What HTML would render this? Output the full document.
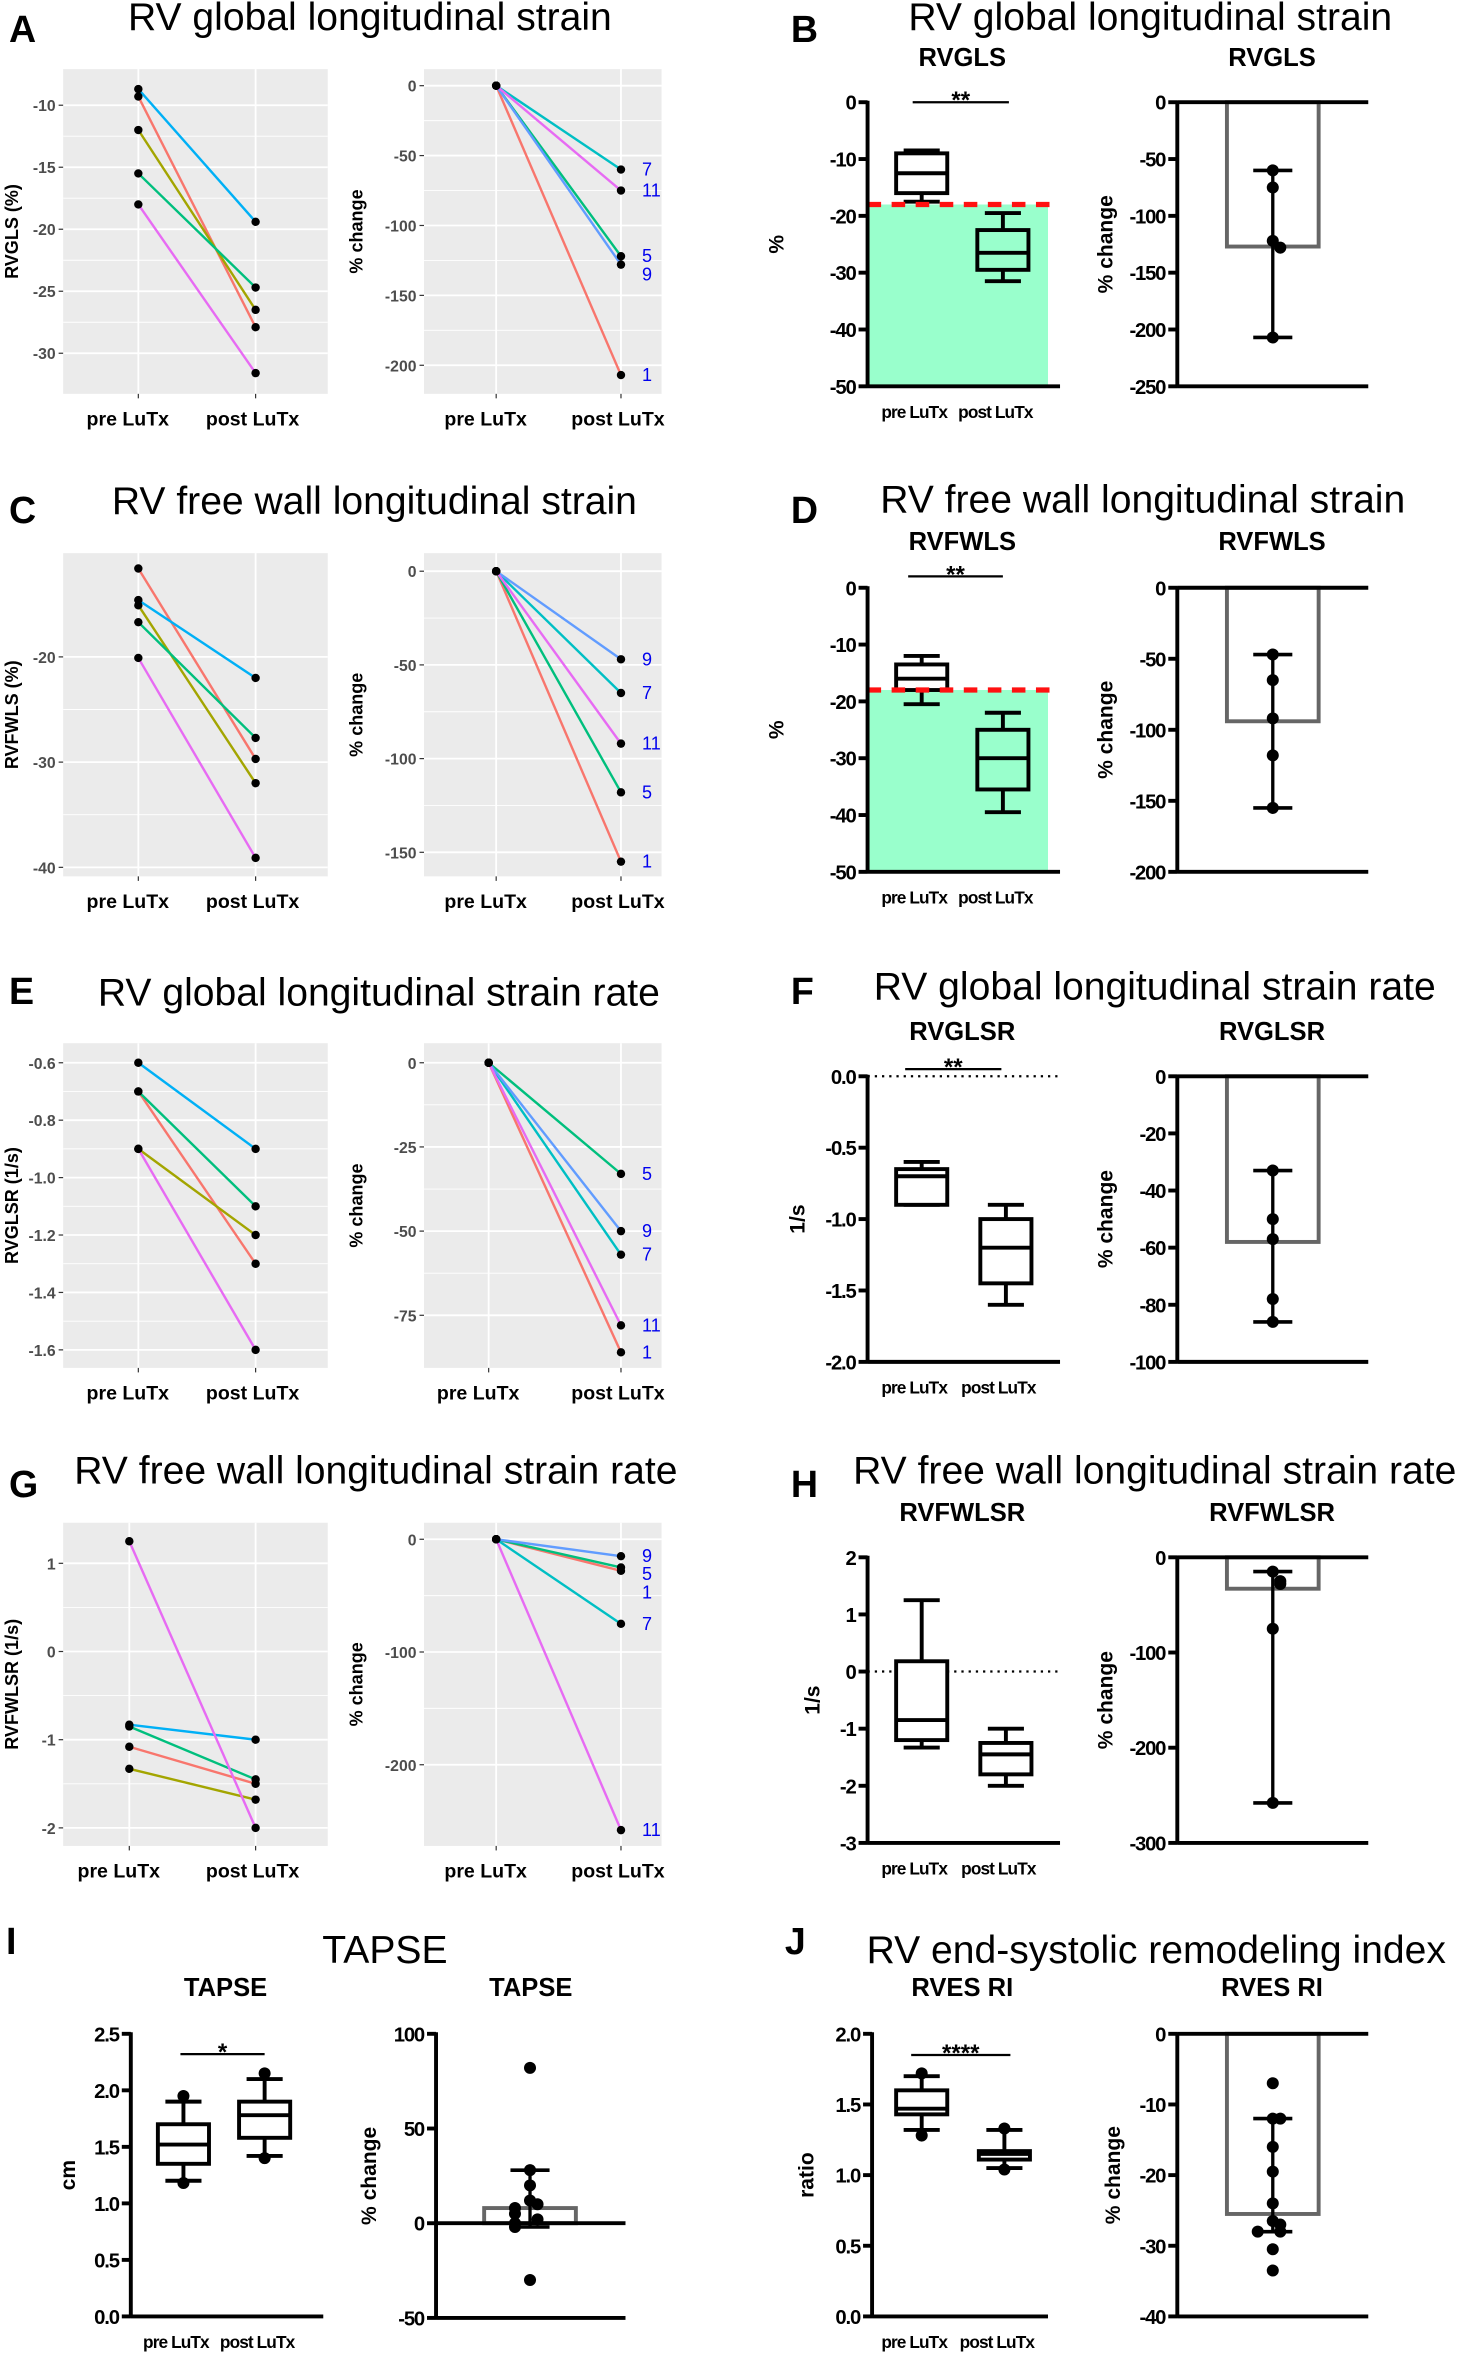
<!DOCTYPE html>
<html><head><meta charset="utf-8">
<style>
html,body{margin:0;padding:0;background:#fff;}
svg{display:block;}
text{font-family:"Liberation Sans",sans-serif;}
</style></head>
<body>
<svg id="fig" xmlns="http://www.w3.org/2000/svg" width="1469" height="2357" viewBox="0 0 977 1568" preserveAspectRatio="none"></svg>
<script>
// ---------- DATA ----------
const colRed="#F8766D",colOli="#A3A500",colGrn="#00BF7D",colCya="#00B0F6",colBlu="#619CFF",colMag="#E76BF3";
const gxLabels=["pre LuTx","post LuTx"];
// A
const aPre=[-9.3,-12,-15.5,-8.7,-18], aPost=[-27.9,-26.5,-24.7,-19.4,-31.6];
const aCols=[colRed,colOli,colGrn,colCya,colMag];
const aTicks=[-10,-15,-20,-25,-30];
const aPct=[-207,-122,-60,-128,-75], aIds=["1","5","7","9","11"];
const aPctCols=[colRed,colGrn,"#00BFC4",colBlu,colMag];
const aPctTicks=[0,-50,-100,-150,-200];
// C
const cPre=[-11.6,-15.1,-16.7,-14.6,-20.1], cPost=[-29.7,-32,-27.7,-22,-39.1];
const cTicks=[-20,-30,-40];
const cPct=[-155,-118,-65,-47,-92];
const cPctTicks=[0,-50,-100,-150];
// E
const ePre=[-0.7,-0.9,-0.7,-0.6,-0.9], ePost=[-1.3,-1.2,-1.1,-0.9,-1.6];
const eTicks=[-0.6,-0.8,-1.0,-1.2,-1.4,-1.6];
const ePct=[-86,-33,-57,-50,-78];
const ePctTicks=[0,-25,-50,-75];
// G
const gPre=[-1.08,-1.33,-0.85,-0.83,1.25], gPost=[-1.5,-1.68,-1.45,-1.0,-2.0];
const gTicks=[1,0,-1,-2];
const gPct=[-28,-25,-75,-15,-258];
const gPctTicks=[0,-100,-200];
// Box data [min,q1,median,q3,max]
const bPreBox=[-17.5,-16,-12.5,-9,-8.5], bPostBox=[-31.5,-29.5,-26.5,-22.5,-19.5];
const bTicks=[0,-10,-20,-30,-40,-50];
const bBar=-127, bPts=[-60,-75,-122,-128,-207], bErr=[-207,-60];
const bBarTicks=[0,-50,-100,-150,-200,-250];
const dPreBox=[-20.5,-18,-16,-13.5,-12], dPostBox=[-39.5,-35.5,-30,-25,-22];
const dTicks=[0,-10,-20,-30,-40,-50];
const dBar=-94, dPts=[-47,-65,-92,-118,-155], dErr=[-155,-47];
const dBarTicks=[0,-50,-100,-150,-200];
const fPreBox=[-0.9,-0.9,-0.7,-0.65,-0.6], fPostBox=[-1.6,-1.45,-1.2,-1.0,-0.9];
const fTicks=[0,-0.5,-1,-1.5,-2];
const fTickLbl=["0.0","-0.5","-1.0","-1.5","-2.0"];
const fBar=-58, fPts=[-33,-50,-57,-78,-86], fErr=[-86,-33];
const fBarTicks=[0,-20,-40,-60,-80,-100];
const hPreBox=[-1.33,-1.2,-0.85,0.18,1.25], hPostBox=[-2.0,-1.8,-1.45,-1.25,-1.0];
const hTicks=[2,1,0,-1,-2,-3];
const hBar=-33, hPts=[-15,-25,-28,-75,-258], hErr=[-258,-15];
const hBarTicks=[0,-100,-200,-300];
const iPreBox=[1.2,1.35,1.52,1.7,1.9], iPostBox=[1.42,1.58,1.78,1.9,2.1];
const iPreOut=[1.18,1.95], iPostOut=[1.4,2.15];
const iTicks=[0,0.5,1,1.5,2,2.5], iTickLbl=["0.0","0.5","1.0","1.5","2.0","2.5"];
const iBar=8, iPts=[82,28,20,12,10,8,5,2,0,-2,-30], iErr=[-2,28];
const iBarTicks=[100,50,0,-50];
const jPreBox=[1.32,1.43,1.47,1.6,1.7], jPostBox=[1.05,1.11,1.15,1.17,1.32];
const jPreOut=[1.28,1.72], jPostOut=[1.04,1.33];
const jTicks=[0,0.5,1,1.5,2], jTickLbl=["0.0","0.5","1.0","1.5","2.0"];
const jBar=-25.5, jPts=[-7,-12,-12,-16,-19.5,-24,-26.5,-27,-28,-28,-30.5,-33.5], jErr=[-28,-12];
const jBarTicks=[0,-10,-20,-30,-40];

// ---------- HELPERS ----------
const NS="http://www.w3.org/2000/svg";
const svg=document.getElementById('fig');
function lin(d0,d1,r0,r1){return v=>r0+(v-d0)*(r1-r0)/(d1-d0);}
function mk(tag,attrs,parent,txt){const e=document.createElementNS(NS,tag);for(const k in attrs)e.setAttribute(k,attrs[k]);if(txt!==undefined)e.textContent=txt;(parent||svg).appendChild(e);return e;}
function grp(name){const g=mk('g',{});return g;}

function heading(letter,lx,ly,title,tx,ty){
  const t=mk('text',{x:lx,y:ly,'font-size':25,'font-weight':'bold'},svg,letter);
  
  
  const h=mk('text',{x:tx,y:ty,'font-size':26,'text-anchor':'middle'},svg,title);
  
  
}

function ggPanel(name,c){
  const g=grp(name);
  const y=lin(c.v0,c.v1,c.p0,c.p1);
  mk('rect',{x:c.x0,y:c.y0,width:c.x1-c.x0,height:c.y1-c.y0,fill:'#EBEBEB'},g);
  for(let i=0;i<c.ticks.length-1;i++){const m=(y(c.ticks[i])+y(c.ticks[i+1]))/2;mk('line',{x1:c.x0,x2:c.x1,y1:m,y2:m,stroke:'#fff','stroke-width':0.6},g);}
  c.ticks.forEach((t,i)=>{
    const yy=y(t);
    mk('line',{x1:c.x0,x2:c.x1,y1:yy,y2:yy,stroke:'#fff','stroke-width':1.2},g);
    mk('line',{x1:c.x0-3,x2:c.x0,y1:yy,y2:yy,stroke:'#333','stroke-width':0.8},g);
    const tl=mk('text',{x:c.x0-5,y:yy+4,'font-size':10.5,'font-weight':'bold',fill:'#4D4D4D','text-anchor':'end'},g,c.tickLbl?c.tickLbl[i]:String(t));
    
    
  });
  [c.xa,c.xb].forEach((xx,i)=>{
    mk('line',{x1:xx,x2:xx,y1:c.y0,y2:c.y1,stroke:'#fff','stroke-width':1.2},g);
    mk('line',{x1:xx,x2:xx,y1:c.y1,y2:c.y1+3,stroke:'#333','stroke-width':0.8},g);
    const xl=mk('text',{x:xx-(i==0?7:2),y:c.y1+21,'font-size':13,'font-weight':'bold','text-anchor':'middle'},g,gxLabels[i]);
    
    
  });
  const yl=mk('text',{x:0,y:0,'font-size':12,'font-weight':'bold','text-anchor':'middle',transform:`translate(${c.ylx},${(c.y0+c.y1)/2}) rotate(-90)`},g,c.ylabel);
  
  
  const n=c.post.length;
  for(let i=0;i<n;i++){
    const y0=c.pre?y(c.pre[i]):y(0), y1=y(c.post[i]);
    const ln=mk('line',{x1:c.xa,y1:y0,x2:c.xb,y2:y1,stroke:c.cols[i],'stroke-width':1.6},g);
    
    
  }
  for(let i=0;i<n;i++){
    const y0=c.pre?y(c.pre[i]):y(0), y1=y(c.post[i]);
    const p1=mk('circle',{cx:c.xa,cy:y0,r:2.8,fill:'#000'},g);
    
    
    const p2=mk('circle',{cx:c.xb,cy:y1,r:2.8,fill:'#000'},g);
    
    
  }
  if(c.ids){
    const order=c.post.map((v,i)=>i).sort((a,b)=>c.post[b]-c.post[a]);
    let last=-1e9;
    order.forEach(i=>{
      let ly=y(c.post[i])+4; if(ly<last+12) ly=last+12; last=ly;
      const lt=mk('text',{x:c.xb+14,y:ly,'font-size':12,fill:'#0000EE'},g,c.ids[i]);
      
      
    });
  }
}

function boxPanel(name,c){
  const g=grp(name);
  const y=lin(c.v0,c.v1,c.p0,c.p1);
  const bot=Math.max(c.p0,c.p1), top=Math.min(c.p0,c.p1);
  if(c.green){
    const gy=y(c.green);
    mk('rect',{x:c.ax,y:gy,width:c.gx-c.ax,height:bot-gy,fill:'#99FFCC'},g);
  }
  if(c.dotted!==undefined){const dy=y(c.dotted);mk('line',{x1:c.ax,x2:c.dx,y1:dy,y2:dy,stroke:'#000','stroke-width':1.5,'stroke-dasharray':'1.5,3.3'},g);}
  [[c.pre,c.bx1,c.preOut],[c.post,c.bx2,c.postOut]].forEach(([b,cx,out],k)=>{
    const w=34,x0=cx-w/2,cw=12;
    const s={stroke:'#000','stroke-width':2.6,fill:'none'};
    const bg=grp(k?'box-post':'box-pre');g.appendChild(bg);
    mk('line',{x1:cx,x2:cx,y1:y(b[0]),y2:y(b[1]),...s},bg);
    mk('line',{x1:cx,x2:cx,y1:y(b[3]),y2:y(b[4]),...s},bg);
    mk('line',{x1:cx-cw,x2:cx+cw,y1:y(b[0]),y2:y(b[0]),...s},bg);
    mk('line',{x1:cx-cw,x2:cx+cw,y1:y(b[4]),y2:y(b[4]),...s},bg);
    mk('rect',{x:x0,y:Math.min(y(b[3]),y(b[1])),width:w,height:Math.abs(y(b[1])-y(b[3])),...s,fill:c.green?'none':'#fff'},bg);
    mk('line',{x1:x0,x2:x0+w,y1:y(b[2]),y2:y(b[2]),...s},bg);
    if(out) out.forEach(v=>mk('circle',{cx:cx,cy:y(v),r:4,fill:'#000'},bg));
  });
  if(c.green){const gy=y(c.green);const dl=mk('line',{x1:c.ax,x2:c.gx+4,y1:gy,y2:gy,stroke:'#FF1111','stroke-width':3.5,'stroke-dasharray':'9,7'},g);}
  mk('line',{x1:c.ax,x2:c.ax,y1:top-1,y2:bot+1,stroke:'#000','stroke-width':2.6},g);
  mk('line',{x1:c.ax,x2:c.ex,y1:bot,y2:bot,stroke:'#000','stroke-width':2.6},g);
  c.ticks.forEach((t,i)=>{const yy=y(t);mk('line',{x1:c.ax-6,x2:c.ax,y1:yy,y2:yy,stroke:'#000','stroke-width':2.6},g);
    const tl=mk('text',{x:c.ax-8,y:yy+5,'font-size':13.5,'font-weight':'bold','text-anchor':'end','letter-spacing':-0.8},g,c.tickLbl?c.tickLbl[i]:String(t));
    });
  [[c.bx1,"pre LuTx"],[c.bx2,"post LuTx"]].forEach(([xx,l])=>{const xl=mk('text',{x:xx-5,y:bot+21,'font-size':11.5,'font-weight':'bold','text-anchor':'middle','letter-spacing':-0.6},g,l);});
  const yl=mk('text',{x:0,y:0,'font-size':14,'font-weight':'bold','text-anchor':'middle',transform:`translate(${c.ylx},${(top+bot)/2}) rotate(-90)`},g,c.ylabel);
  
  const tt=mk('text',{x:c.tx,y:c.ty,'font-size':17,'font-weight':'bold','text-anchor':'middle'},g,c.title);
  
  if(c.sig){
    mk('line',{x1:c.sx0,x2:c.sx1,y1:y(c.sv),y2:y(c.sv),stroke:'#000','stroke-width':1.5},g);
    const st=mk('text',{x:(c.sx0+c.sx1)/2,y:y(c.sv)+4,'font-size':16,'font-weight':'bold','text-anchor':'middle'},g,c.sig);
    
  }
}

function barPanel(name,c){
  const g=grp(name);
  const y=lin(c.v0,c.v1,c.p0,c.p1);
  const b=mk('rect',{x:c.bx0,y:Math.min(y(0),y(c.bar)),width:c.bx1-c.bx0,height:Math.abs(y(c.bar)-y(0)),fill:'none',stroke:'#666','stroke-width':2.6},g);
  
  const cx=(c.bx0+c.bx1)/2;
  mk('line',{x1:cx,x2:cx,y1:y(c.err[0]),y2:y(c.err[1]),stroke:'#000','stroke-width':2.2},g);
  c.err.forEach(v=>mk('line',{x1:cx-13,x2:cx+13,y1:y(v),y2:y(v),stroke:'#000','stroke-width':2.4},g));
  c.pts.forEach((v,i)=>{
    let off=0;
    const near=c.pts.filter((w,j)=>j<i&&Math.abs(y(w)-y(v))<7).length;
    if(near==1)off=10;else if(near==2)off=-10;else if(near>=3)off=18;
    const p=mk('circle',{cx:cx+off-(near==1?5:0),cy:y(v),r:4,fill:'#000'},g);
    
  });
  mk('line',{x1:c.ax,x2:c.ax,y1:c.p0-1,y2:c.p1+1,stroke:'#000','stroke-width':2.6},g);
  mk('line',{x1:c.ax,x2:c.ex,y1:y(0),y2:y(0),stroke:'#000','stroke-width':2.6},g);
  if(Math.abs(y(0)-c.p1)>1) mk('line',{x1:c.ax,x2:c.ex,y1:c.p1,y2:c.p1,stroke:'#000','stroke-width':2.6},g);
  c.ticks.forEach(t=>{const yy=y(t);mk('line',{x1:c.ax-6,x2:c.ax,y1:yy,y2:yy,stroke:'#000','stroke-width':2.6},g);
    const tl=mk('text',{x:c.ax-8,y:yy+5,'font-size':13.5,'font-weight':'bold','text-anchor':'end','letter-spacing':-0.8},g,String(t));
    });
  const yl=mk('text',{x:0,y:0,'font-size':14,'font-weight':'bold','text-anchor':'middle',transform:`translate(${c.ylx},${(c.p0+c.p1)/2}) rotate(-90)`},g,"% change");
  
  const tt=mk('text',{x:c.tx,y:c.ty,'font-size':17,'font-weight':'bold','text-anchor':'middle'},g,c.title);
  
}

// ---------- BUILD ----------
heading("A",6,28,"RV global longitudinal strain",246,20);
ggPanel('panel-a-absolute',{x0:42,x1:218,y0:46,y1:262,v0:-10,v1:-30,p0:70,p1:235,ticks:aTicks,xa:92,xb:170,pre:aPre,post:aPost,cols:aCols,ylabel:"RVGLS (%)",ylx:12});
ggPanel('panel-a-percent',{x0:282,x1:440,y0:46,y1:262,v0:0,v1:-200,p0:57,p1:243,ticks:aPctTicks,xa:330,xb:413,post:aPct,cols:aPctCols,ids:aIds,ylabel:"% change",ylx:241});

heading("B",526,28,"RV  global longitudinal strain",765,20);
boxPanel('panel-b-box',{ax:577,ex:705,gx:697,v0:0,v1:-50,p0:68,p1:257,ticks:bTicks,pre:bPreBox,post:bPostBox,bx1:613,bx2:667,green:-18,ylabel:"%",ylx:521,title:"RVGLS",tx:640,ty:44,sx0:607,sx1:671,sv:0,sig:"**"});
barPanel('panel-b-bar',{ax:783,ex:910,v0:0,v1:-250,p0:68,p1:257,ticks:bBarTicks,bar:bBar,pts:bPts,err:bErr,bx0:816,bx1:877,ylx:740,title:"RVGLS",tx:846,ty:44});

heading("C",6,348,"RV free wall longitudinal strain",249,342);
ggPanel('panel-c-absolute',{x0:42,x1:218,y0:368,y1:583,v0:-20,v1:-40,p0:437,p1:577,ticks:cTicks,xa:92,xb:170,pre:cPre,post:cPost,cols:aCols,ylabel:"RVFWLS (%)",ylx:12});
ggPanel('panel-c-percent',{x0:282,x1:440,y0:368,y1:583,v0:0,v1:-150,p0:380,p1:567,ticks:cPctTicks,xa:330,xb:413,post:cPct,cols:[colRed,colGrn,"#00BFC4",colBlu,colMag],ids:aIds,ylabel:"% change",ylx:241});

heading("D",526,348,"RV free wall longitudinal strain",760,341);
boxPanel('panel-d-box',{ax:577,ex:705,gx:697,v0:0,v1:-50,p0:391,p1:580,ticks:dTicks,pre:dPreBox,post:dPostBox,bx1:613,bx2:667,green:-18,ylabel:"%",ylx:521,title:"RVFWLS",tx:640,ty:366,sx0:604,sx1:667,sv:2,sig:"**"});
barPanel('panel-d-bar',{ax:783,ex:910,v0:0,v1:-200,p0:391,p1:580,ticks:dBarTicks,bar:dBar,pts:dPts,err:dErr,bx0:816,bx1:877,ylx:740,title:"RVFWLS",tx:846,ty:366});

heading("E",6,668,"RV global longitudinal strain rate",252,669);
ggPanel('panel-e-absolute',{x0:42,x1:218,y0:694,y1:910,v0:-0.6,v1:-1.6,p0:707,p1:898,ticks:eTicks,tickLbl:["-0.6","-0.8","-1.0","-1.2","-1.4","-1.6"],xa:92,xb:170,pre:ePre,post:ePost,cols:aCols,ylabel:"RVGLSR (1/s)",ylx:12});
ggPanel('panel-e-percent',{x0:282,x1:440,y0:694,y1:910,v0:0,v1:-75,p0:707,p1:875,ticks:ePctTicks,xa:325,xb:413,post:ePct,cols:[colRed,colGrn,"#00BFC4",colBlu,colMag],ids:aIds,ylabel:"% change",ylx:241});

heading("F",526,668,"RV global longitudinal strain rate",768,665);
boxPanel('panel-f-box',{ax:577,ex:705,v0:0,v1:-2,p0:716,p1:906,ticks:fTicks,tickLbl:fTickLbl,pre:fPreBox,post:fPostBox,bx1:613,bx2:669,dotted:0,dx:704,ylabel:"1/s",ylx:535,title:"RVGLSR",tx:640,ty:692,sx0:602,sx1:666,sv:0.05,sig:"**"});
barPanel('panel-f-bar',{ax:783,ex:910,v0:0,v1:-100,p0:716,p1:906,ticks:fBarTicks,bar:fBar,pts:fPts,err:fErr,bx0:816,bx1:877,ylx:740,title:"RVGLSR",tx:846,ty:692});

heading("G",6,996,"RV free wall longitudinal strain rate",250,987);
ggPanel('panel-g-absolute',{x0:42,x1:218,y0:1013,y1:1228,v0:1,v1:-2,p0:1040,p1:1216,ticks:gTicks,xa:86,xb:170,pre:gPre,post:gPost,cols:aCols,ylabel:"RVFWLSR (1/s)",ylx:12});
ggPanel('panel-g-percent',{x0:282,x1:440,y0:1013,y1:1228,v0:0,v1:-200,p0:1024,p1:1174,ticks:gPctTicks,xa:330,xb:413,post:gPct,cols:[colRed,colGrn,"#00BFC4",colBlu,colMag],ids:aIds,ylabel:"% change",ylx:241});

heading("H",526,996,"RV free wall longitudinal strain rate",768,987);
boxPanel('panel-h-box',{ax:577,ex:705,v0:2,v1:-3,p0:1036,p1:1226,ticks:hTicks,pre:hPreBox,post:hPostBox,bx1:613,bx2:669,dotted:0,dx:704,ylabel:"1/s",ylx:545,title:"RVFWLSR",tx:640,ty:1012,sig:""});
barPanel('panel-h-bar',{ax:783,ex:910,v0:0,v1:-300,p0:1036,p1:1226,ticks:hBarTicks,bar:hBar,pts:hPts,err:hErr,bx0:816,bx1:877,ylx:740,title:"RVFWLSR",tx:846,ty:1012});

heading("I",4,1300,"TAPSE",256,1306);
boxPanel('panel-i-box',{ax:87,ex:215,v0:0,v1:2.5,p0:1541,p1:1353,ticks:iTicks,tickLbl:iTickLbl,pre:iPreBox,post:iPostBox,preOut:iPreOut,postOut:iPostOut,bx1:122,bx2:176,ylabel:"cm",ylx:50,title:"TAPSE",tx:150,ty:1328,sx0:120,sx1:176,sv:2.32,sig:"*"});
barPanel('panel-i-bar',{ax:290,ex:416,v0:100,v1:-50,p0:1353,p1:1542,ticks:iBarTicks,bar:iBar,pts:iPts,err:iErr,bx0:322,bx1:383,ylx:250,title:"TAPSE",tx:353,ty:1328});

heading("J",522,1300,"RV end-systolic remodeling index",769,1306);
boxPanel('panel-j-box',{ax:580,ex:697,v0:0,v1:2,p0:1541,p1:1353,ticks:jTicks,tickLbl:jTickLbl,pre:jPreBox,post:jPostBox,preOut:jPreOut,postOut:jPostOut,bx1:613,bx2:668,ylabel:"ratio",ylx:541,title:"RVES RI",tx:640,ty:1328,sx0:606,sx1:672,sv:1.85,sig:"****"});
barPanel('panel-j-bar',{ax:783,ex:910,v0:0,v1:-40,p0:1353,p1:1541,ticks:jBarTicks,bar:jBar,pts:jPts,err:jErr,bx0:816,bx1:877,ylx:745,title:"RVES RI",tx:846,ty:1328});
</script>
</body></html>
